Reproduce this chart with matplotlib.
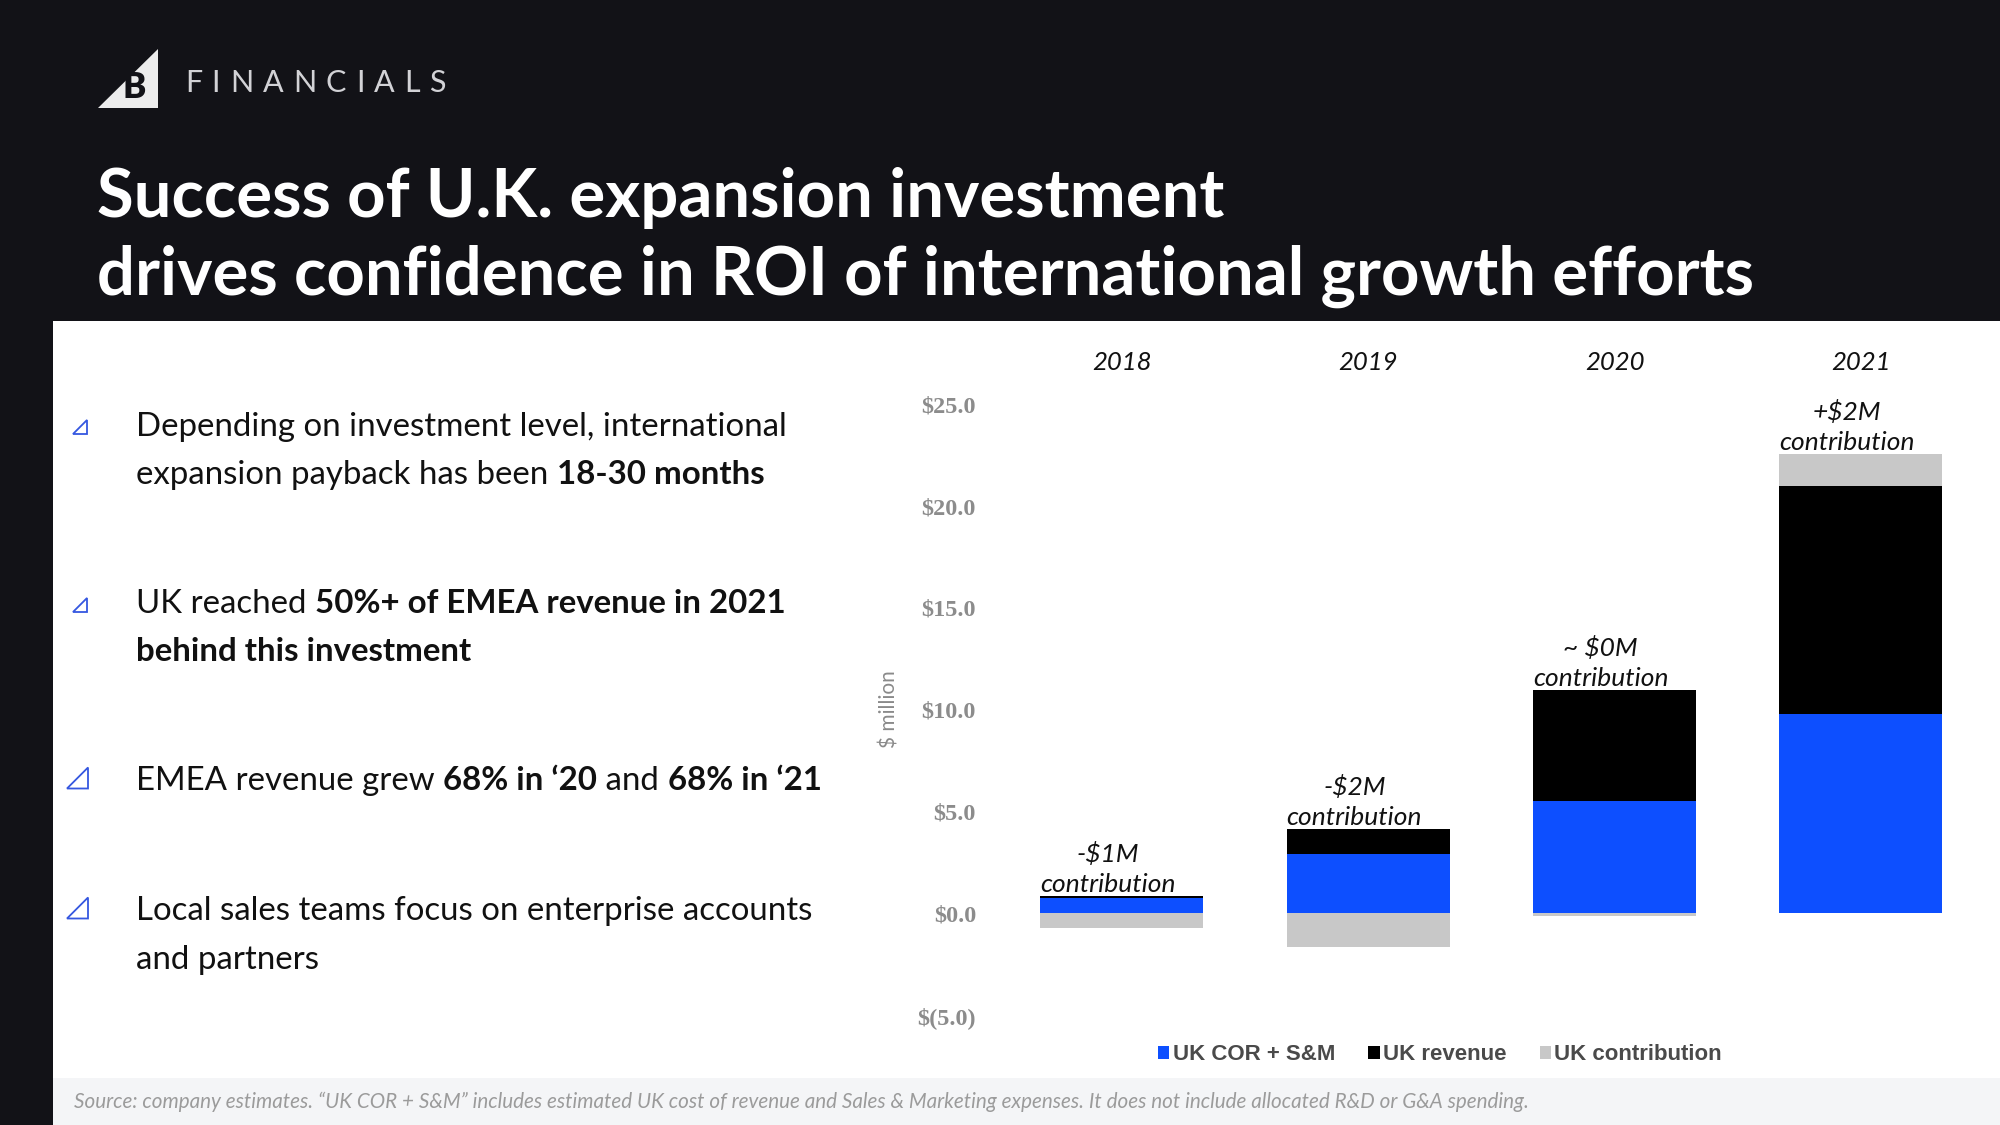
import numpy as np
import matplotlib
matplotlib.use("Agg")
import matplotlib.pyplot as plt
from matplotlib.patches import Rectangle, Polygon, Patch
from matplotlib import font_manager

# ---------------- data ----------------
years = ["2018", "2019", "2020", "2021"]
uk_cor_sm = [0.75, 2.9, 5.5, 9.8]
uk_revenue = [0.1, 1.25, 5.45, 11.2]
uk_contribution = [-0.7, -1.65, -0.15, 1.55]
contribution_labels = ["-$1M\ncontribution", "-$2M\ncontribution",
                       "~ $0M\ncontribution", "+$2M\ncontribution"]
ytick_values = [-5, 0, 5, 10, 15, 20, 25]
ytick_labels = ["$(5.0)", "$0.0", "$5.0", "$10.0", "$15.0", "$20.0", "$25.0"]
legend_labels = ["UK COR + S&M", "UK revenue", "UK contribution"]

title_lines = ["Success of U.K. expansion investment",
               "drives confidence in ROI of international growth efforts"]
bullets = [
    [[("Depending on investment level, international", False)],
     [("expansion payback has been ", False), ("18-30 months", True)]],
    [[("UK reached ", False), ("50%+ of EMEA revenue in 2021", True)],
     [("behind this investment", True)]],
    [[("EMEA revenue grew ", False), ("68% in \u201820", True), (" and ", False), ("68% in \u201821", True)]],
    [[("Local sales teams focus on enterprise accounts", False)],
     [("and partners", False)]],
]
footnote = ("Source: company estimates. \u201cUK COR + S&M\u201d includes estimated UK cost of revenue and "
            "Sales & Marketing expenses. It does not include allocated R&D or G&A spending.")

# ---------------- style ----------------
DARK = "#121217"
BLUE = "#0d4fff"
BLACK = "#000000"
GRAY = "#c8c8c8"
BULLET_BLUE = "#3557e0"
FAM = ["Lato", "DejaVu Sans"]
names = {f.name for f in font_manager.fontManager.ttflist}
NARROW = "Liberation Sans Narrow" if "Liberation Sans Narrow" in names else "Liberation Sans"
SERIF = "Liberation Serif"

W, H = 2000, 1125
fig = plt.figure(figsize=(20, 11.25), dpi=100, facecolor=DARK)
R = fig.canvas.get_renderer()


def fx(px):
    return px / W


def fy(py):
    return 1 - py / H


def measure(s, **kw):
    t = fig.text(0, 0, s, **kw)
    w = t.get_window_extent(renderer=R).width
    t.remove()
    return w


def run_width(s, **kw):
    return measure(s + "|", **kw) - measure("|", **kw)


def fit_size(s, target, **kw):
    w = measure(s, fontsize=20, **kw)
    return 20 * target / w


# ---------------- background panels ----------------
fig.add_artist(Rectangle((fx(53), 0), 1 - fx(53), fy(321), transform=fig.transFigure,
                         facecolor="white", edgecolor="none", zorder=0))
fig.add_artist(Rectangle((fx(53), 0), 1 - fx(53), fy(1078), transform=fig.transFigure,
                         facecolor="#f4f5f7", edgecolor="none", zorder=0))

# ---------------- logo ----------------
fig.add_artist(Polygon([(fx(98), fy(108)), (fx(158), fy(108)), (fx(158), fy(49))],
                       closed=True, transform=fig.transFigure, facecolor="#ececec",
                       edgecolor="none", zorder=2))
fig.text(fx(134), fy(97.5), "B", fontsize=25, fontweight="heavy", family=FAM,
         color=DARK, ha="center", va="baseline", zorder=3)

# FINANCIALS with letter spacing
word = "FINANCIALS"
fkw = dict(fontsize=22, fontweight="normal", family=FAM, color="#d2d2d6")
widths = [run_width(c, **fkw) for c in word]
track = (261 - sum(widths)) / (len(word) - 1)
xp = 185
for c, w in zip(word, widths):
    fig.text(fx(xp), fy(92), c, ha="left", va="baseline", **fkw)
    xp += w + track

# ---------------- title ----------------
tkw = dict(fontweight="bold", family=FAM)
tsize = fit_size(title_lines[1], 1656, **tkw)
for line, base in zip(title_lines, [217, 295]):
    fig.text(fx(97), fy(base), line, fontsize=tsize, color="white",
             ha="left", va="baseline", **tkw)

# ---------------- bullets ----------------
bsize = fit_size(bullets[0][0][0][0], 652, family=FAM)
bullet_base = [[436, 484], [613, 661], [790], [920, 969]]
tri = [(80, 427, 14), (80, 605, 14), (77.5, 778, 21), (77.5, 908, 21)]
for (cx, cy, s) in tri:
    pts = [(cx - s / 2, cy + s / 2), (cx + s / 2, cy + s / 2), (cx + s / 2, cy - s / 2)]
    fig.add_artist(Polygon([(fx(a), fy(b)) for a, b in pts], closed=True,
                           transform=fig.transFigure, facecolor="none",
                           edgecolor=BULLET_BLUE, linewidth=1.3, zorder=3))
for lines, bases in zip(bullets, bullet_base):
    for runs, base in zip(lines, bases):
        xp = 136
        for txt, bold in runs:
            kw = dict(fontsize=bsize, family=FAM, fontweight="bold" if bold else "normal")
            fig.text(fx(xp), fy(base), txt, ha="left", va="baseline", color="#111111", **kw)
            xp += run_width(txt, **kw)

# ---------------- footnote ----------------
nkw = dict(family=FAM, fontstyle="italic")
nsize = fit_size(footnote, 1458, **nkw)
fig.text(fx(74), fy(1108), footnote, fontsize=nsize, color="#9b9b9b",
         ha="left", va="baseline", **nkw)

# ---------------- chart ----------------
ax = fig.add_axes([976 / W, (H - 1045.6) / H, 1008 / W, (1045.6 - 373.8) / H])
ax.set_facecolor("none")
x = np.arange(len(years))
width = 0.662
rev_bottom = np.array(uk_cor_sm)
contrib = np.array(uk_contribution)
contrib_bottom = np.where(contrib >= 0, rev_bottom + np.array(uk_revenue), 0.0)
ax.bar(x, uk_cor_sm, width, color=BLUE, zorder=2)
ax.bar(x, uk_revenue, width, bottom=rev_bottom, color=BLACK, zorder=2)
ax.bar(x, contrib, width, bottom=contrib_bottom, color=GRAY, zorder=2)

tops = np.maximum(rev_bottom + np.array(uk_revenue), contrib_bottom + np.maximum(contrib, 0))
for i, (lbl, top) in enumerate(zip(contribution_labels, tops)):
    ax.annotate(lbl, xy=(i, top), xytext=(-10, 0), textcoords="offset points",
                ha="center", va="bottom", fontsize=19, fontstyle="italic",
                family=FAM, color="#111111", linespacing=1.38)

ax.set_xlim(-0.592, 3.5)
ax.set_ylim(-6.5, 26.5)
ax.xaxis.tick_top()
ax.set_xticks(x, years, fontstyle="italic", fontsize=18.5, family=FAM, color="#111111")
ax.set_yticks(ytick_values, ytick_labels, fontsize=17.5, fontweight="bold", family=SERIF,
              color="#8c8c8c")
ax.tick_params(axis="both", length=0)
ax.tick_params(axis="x", pad=0)
ax.tick_params(axis="y", pad=0)
for sp in ax.spines.values():
    sp.set_visible(False)

fig.text(fx(889), fy(709), "$ million", rotation=90, ha="center", va="center",
         color="#8a8a8a", fontsize=15, family=FAM)

handles = [Patch(facecolor=c, edgecolor="none") for c in [BLUE, BLACK, GRAY]]
fig.legend(handles, legend_labels, loc="center", bbox_to_anchor=(fx(1440), fy(1055)),
           ncol=3, frameon=False, handlelength=0.5, handleheight=0.5,
           handletextpad=0.15, columnspacing=1.5,
           prop=dict(family=NARROW, weight="bold", size=16), labelcolor="#4a4a4a")

fig.savefig("out.png", dpi=100, facecolor=fig.get_facecolor())
